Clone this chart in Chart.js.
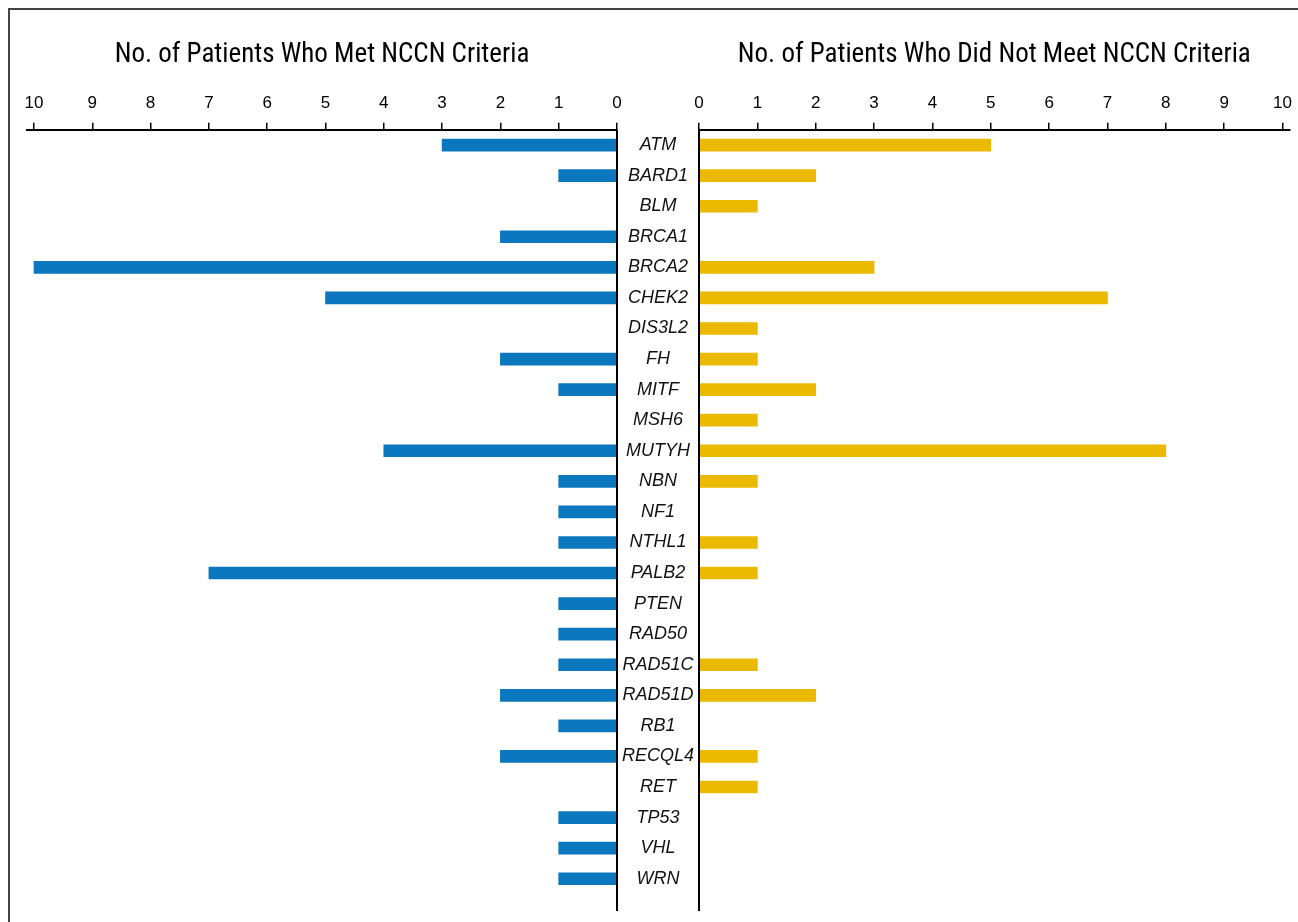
<!DOCTYPE html>
<html>
<head>
<meta charset="utf-8">
<script src="https://cdn.jsdelivr.net/npm/chart.js@4"></script>
<style>
  html, body { margin: 0; padding: 0; background: #fff; overflow: hidden; }
  #frame { position: absolute; left: 8px; top: 8px; width: 1300px; height: 930px;
           border-left: 2px solid #444; border-top: 2px solid #444; }
  .box { position: absolute; top: 0; height: 922px; }
  #leftBox { left: 0; width: 622px; }
  #rightBox { left: 617px; width: 684px; }
</style>
</head>
<body>
<div id="frame"></div>
<div class="box" id="leftBox"><canvas id="leftChart"></canvas></div>
<div class="box" id="rightBox"><canvas id="rightChart"></canvas></div>
<script>
// ===== data =====
const genes = ['ATM', 'BARD1', 'BLM', 'BRCA1', 'BRCA2', 'CHEK2', 'DIS3L2', 'FH', 'MITF', 'MSH6',
  'MUTYH', 'NBN', 'NF1', 'NTHL1', 'PALB2', 'PTEN', 'RAD50', 'RAD51C', 'RAD51D', 'RB1',
  'RECQL4', 'RET', 'TP53', 'VHL', 'WRN'];
const metNCCN    = [3, 1, 0, 2, 10, 5, 0, 2, 1, 0, 4, 1, 1, 1, 7, 1, 1, 1, 2, 1, 2, 0, 1, 1, 1];
const notMetNCCN = [5, 2, 1, 0, 3, 7, 1, 1, 2, 1, 8, 1, 0, 1, 1, 0, 0, 1, 2, 0, 1, 1, 0, 0, 0];
const tickValues = [0, 1, 2, 3, 4, 5, 6, 7, 8, 9, 10];

const leftTitle = 'No. of Patients Who Met NCCN Criteria';
const rightTitle = 'No. of Patients Who Did Not Meet NCCN Criteria';

const BLUE = '#0a77be';
const GOLD = '#ebba00';
const narrow = "'Liberation Sans Narrow', 'Roboto Condensed', 'Liberation Sans', sans-serif";
const sans = "'Liberation Sans', Arial, sans-serif";

// 0 の縦線（下に少しはみ出す）
const zeroLine = {
  id: 'zeroLine',
  afterDatasetsDraw(chart) {
    const { ctx, chartArea } = chart;
    const x = chart.scales.x.getPixelForValue(0);
    ctx.save();
    ctx.strokeStyle = '#000';
    ctx.lineWidth = 2;
    ctx.beginPath();
    ctx.moveTo(x, chartArea.top);
    ctx.lineTo(x, chartArea.bottom + 17);
    ctx.stroke();
    ctx.restore();
  }
};

function xScale(title, reverse) {
  return {
    type: 'linear',
    position: 'top',
    min: 0,
    max: 10.12,
    reverse: reverse,
    afterBuildTicks: s => { s.ticks = tickValues.map(v => ({ value: v })); },
    ticks: { color: '#000', font: { family: sans, size: 17 }, padding: 9, maxRotation: 0 },
    grid: { drawOnChartArea: false, drawTicks: true, tickLength: 7, color: '#000', lineWidth: 1.5 },
    border: { display: true, color: '#000', width: 2 },
    title: { display: true, text: title, color: '#000', font: { family: narrow, size: 27 },
             padding: { top: 0, bottom: 13 } }
  };
}

function makeChart(id, values, color, reverse, showGenes, padding) {
  return new Chart(document.getElementById(id), {
    type: 'bar',
    data: {
      labels: genes,
      datasets: [{ data: values, backgroundColor: color, borderWidth: 0, barThickness: 12 }]
    },
    options: {
      indexAxis: 'y',
      maintainAspectRatio: false,
      animation: false,
      events: [],
      layout: { padding: padding },
      plugins: { legend: { display: false }, tooltip: { enabled: false } },
      scales: {
        x: xScale(reverse ? leftTitle : rightTitle, reverse),
        y: {
          display: showGenes,
          position: 'left',
          afterFit: s => { if (showGenes) s.width = 82; },
          ticks: { color: '#111', font: { family: sans, size: 18, style: 'italic' },
                   crossAlign: 'center', padding: 5 },
          grid: { display: false, drawTicks: false },
          border: { display: false }
        }
      }
    },
    plugins: [zeroLine]
  });
}

makeChart('leftChart', metNCCN, BLUE, true, false, { left: 27, right: 5, top: 39, bottom: 28 });
makeChart('rightChart', notMetNCCN, GOLD, false, true, { left: 0, right: 0, top: 39, bottom: 28 });
</script>
</body>
</html>
